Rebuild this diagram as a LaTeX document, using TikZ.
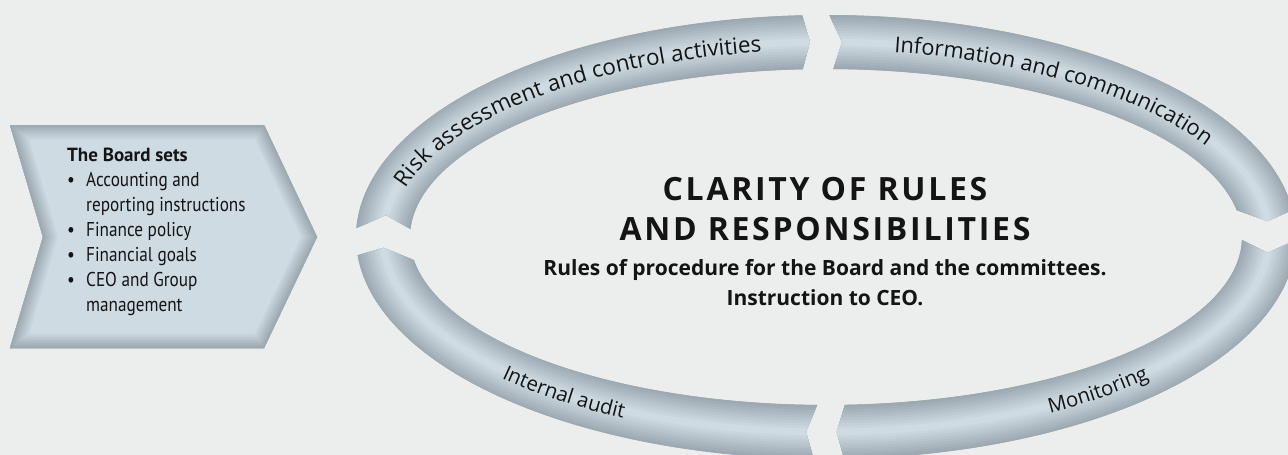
\documentclass[tikz,border=0pt]{standalone}
\usepackage{fontspec}
\setmainfont{Open Sans}
\newfontfamily\boxfont[FakeStretch=0.86]{PT Sans}
\newfontfamily\boardhead{PT Sans}
\usetikzlibrary{decorations.text}
\definecolor{pagegray}{HTML}{ECEEED}
\definecolor{tubedark}{HTML}{9CA9B1}
\definecolor{tubelight}{HTML}{CEDBE3}
\definecolor{ink}{HTML}{141414}
\newcommand{\boardshape}{(10,125) -- (264,125) -- (317,237) -- (264,348) -- (10,348) -- (43,237) -- cycle}
\newcommand{\ringpart}[6]{plot[domain=#1:#4,samples=60] ({826+470*cos(\x)},{237+222*sin(\x)})
  -- ({826+443*cos(#6)},{237+195*sin(#6)})
  -- plot[domain=#5:#2,samples=60] ({826+416*cos(\x)},{237+168*sin(\x)})
  -- ({826+443*cos(#3)},{237+195*sin(#3)}) -- cycle}

\begin{document}
\begin{tikzpicture}[x=1pt,y=-1pt,
  boardtext/.style={font=\boxfont\fontsize{20}{25}\selectfont,text=ink,align=left,inner sep=0pt},
  titletext/.style={font=\fontsize{32}{38}\selectfont\bfseries\addfontfeatures{LetterSpace=8.5},text=ink,inner sep=0pt},
  rulestext/.style={font=\fontsize{21}{24}\selectfont\bfseries,text=ink,inner sep=0pt},
  ringlabel/.style 2 args={decorate,decoration={text along path,text={|\fontsize{#1}{#1}\selectfont\color{ink}|#2}}}]
\useasboundingbox (0,0) rectangle (1288,455);
\fill[pagegray] (0,0) rectangle (1288,455);
\clip (0,0) rectangle (1288,455);

% the board chevron
\fill[tubelight] \boardshape;
\begin{scope}
  \clip \boardshape;
  \foreach \k [evaluate=\k as \pct using int(\k*11), evaluate=\k as \lw using 32-3.2*\k] in {0,...,9}
    \draw[tubedark!\pct!tubelight, line width=\lw pt, line join=miter] \boardshape;
\end{scope}
\node[boardtext, anchor=north west] (boardlist) at (67,148) {{\boardhead\fontsize{19}{25}\selectfont\bfseries The Board sets}\\
  \makebox[19pt][l]{\textbullet}Accounting and\\
  \hspace*{19pt}reporting instructions\\
  \makebox[19pt][l]{\textbullet}Finance policy\\
  \makebox[19pt][l]{\textbullet}Financial goals\\
  \makebox[19pt][l]{\textbullet}CEO and Group\\
  \hspace*{19pt}management};

% the four parts of the ring
\foreach \ta/\tb/\tn/\tc/\td/\tp in {182.3/182.7/186.5/267.1/266.8/267.9,
    270.4/271.0/272.1/353.0/350.8/355.3, 360.8/361.0/364.7/447.8/447.4/448.6,
    91.5/91.2/92.6/175.3/172.1/176.8}{
  \fill[tubedark] \ringpart{\ta}{\tb}{\tn}{\tc}{\td}{\tp};
  \begin{scope}
    \clip \ringpart{\ta}{\tb}{\tn}{\tc}{\td}{\tp};
    \foreach \k [evaluate=\k as \pct using int(\k*11), evaluate=\k as \lw using 54-5.2*\k] in {0,...,9}
      \draw[tubelight!\pct!tubedark, line width=\lw pt] (826,237) ellipse [x radius=443pt, y radius=195pt];
  \end{scope}
}
\path[ringlabel={22.4}{Risk assessment and control activities}] plot[domain=195:300,samples=90] ({826+435*cos(\x)},{237+187*sin(\x)});
\path[ringlabel={21.8}{Information and communication}] plot[domain=279:375,samples=90] ({826+435*cos(\x)},{237+187*sin(\x)});
\path[ringlabel={20.4}{Monitoring}] plot[domain=60.2:0,samples=60] ({826+451*cos(\x)},{237+203*sin(\x)});
\path[ringlabel={20.4}{Internal audit}] plot[domain=136:80,samples=60] ({826+451*cos(\x)},{237+203*sin(\x)});

% centre texts
\node[titletext, anchor=base] (titletop) at (825,200) {CLARITY OF RULES};
\node[titletext, anchor=base] (titlebottom) at (825,240) {AND RESPONSIBILITIES};
\node[rulestext, anchor=base] (rulesline) at (825,275) {Rules of procedure for the Board and the committees.};
\node[rulestext, anchor=base] (ceoline) at (825,305) {Instruction to CEO.};
\end{tikzpicture}
\end{document}
